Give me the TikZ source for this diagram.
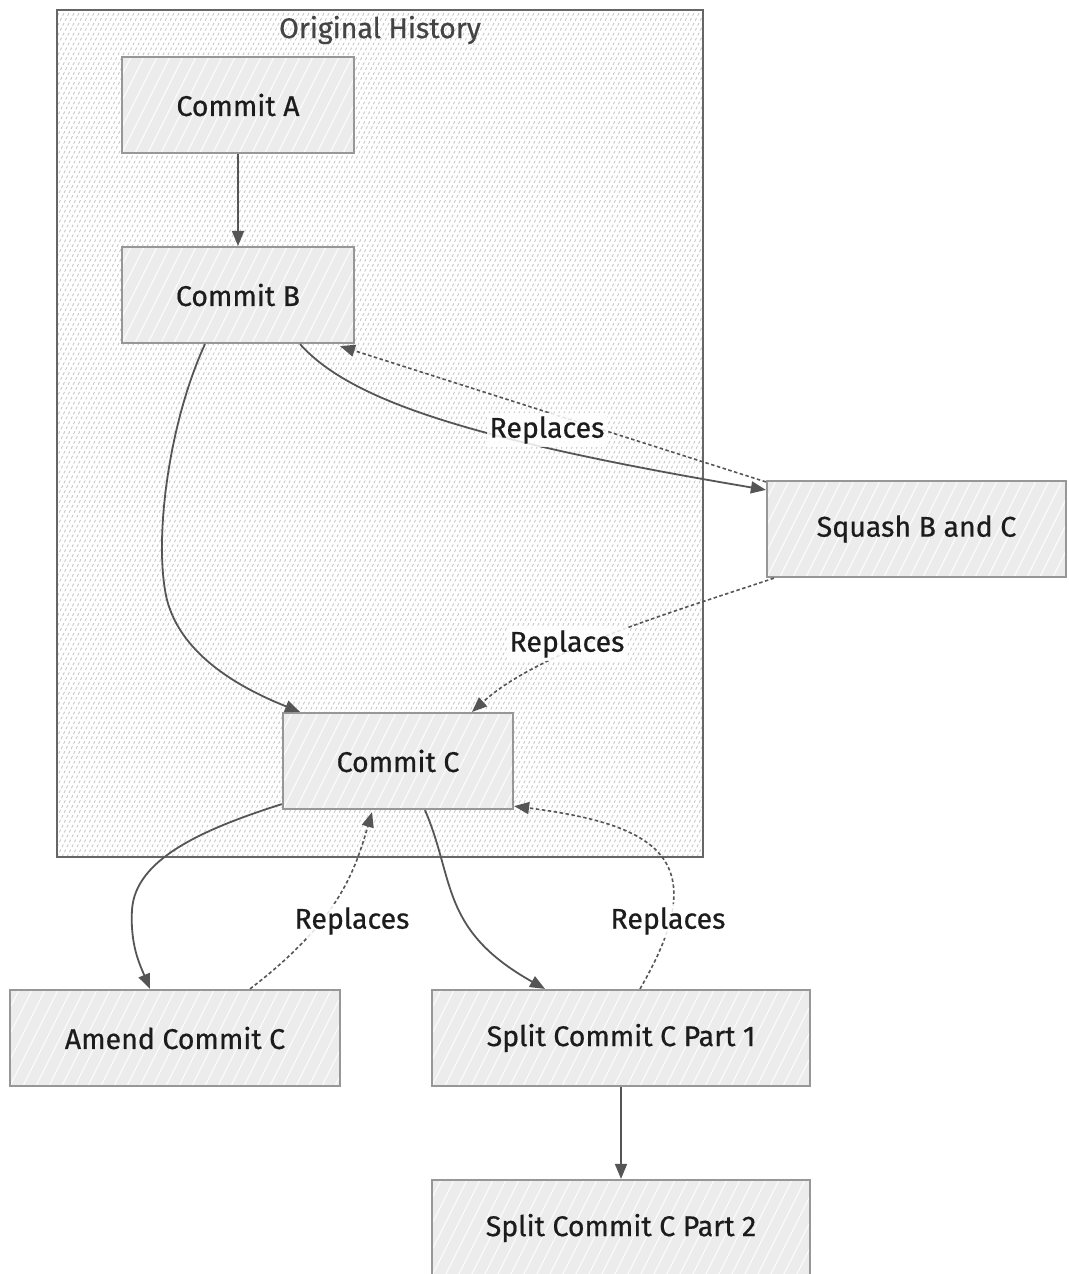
\documentclass[tikz,border=0pt]{standalone}
\usepackage{fontspec}
\setmainfont[FakeBold=0.6]{Fira Sans}
\usetikzlibrary{arrows.meta}
\definecolor{boxfill}{HTML}{ECECEC}
\definecolor{boxline}{HTML}{979797}
\definecolor{clusterline}{HTML}{666666}
\definecolor{clusterhatch}{HTML}{C4C4C4}
\definecolor{edgecol}{HTML}{555555}
\definecolor{textcol}{HTML}{1C1C1C}
\definecolor{titlecol}{HTML}{444444}
\begin{document}
\begin{tikzpicture}[x=1pt, y=-1pt,
  every node/.style={font=\fontsize{28.5}{33}\selectfont, text=textcol},
  boxhatch/.style={path picture={
    \foreach \k in {-8,...,32}{
      \draw[white, line width=1.2pt, opacity=0.75]
        ([xshift=\k*13pt]path picture bounding box.south west) -- ++(70,-140);
    }}},
  commitbox/.style={draw=boxline, line width=2.2pt, fill=boxfill, boxhatch,
    minimum height=96, inner sep=0pt},
  clusterhatchstyle/.style={path picture={
    \foreach \k in {-92,...,132}{
      \draw[clusterhatch, line width=0.7pt, dash pattern=on 3pt off 2.5pt]
        ([xshift=\k*5pt]path picture bounding box.south west) -- ++(440,-880);
    }}},
  clusterbox/.style={draw=clusterline, line width=2pt, fill=white,
    clusterhatchstyle, inner sep=0pt},
  flow/.style={draw=edgecol, line width=1.8pt,
    -{Triangle[length=15pt, width=12pt]}},
  replaces/.style={draw=edgecol, line width=1.6pt, dash pattern=on 3.5pt off 2.5pt,
    -{Triangle[length=15pt, width=12pt]}},
  edgelabel/.style={fill=white, fill opacity=0.85, text opacity=1,
    inner sep=3pt}
]
\useasboundingbox (0,0) rectangle (1068,1274);

% subgraph frame
\node[clusterbox, minimum width=646, minimum height=847] (hist) at (380,433.5) {};
\node[text=titlecol] (histtitle) at (380,30) {Original History};

% commits
\node[commitbox, minimum width=232] (A) at (238,105) {Commit A};
\node[commitbox, minimum width=232] (B) at (238,295) {Commit B};
\node[commitbox, minimum width=230] (C) at (398,761) {Commit C};
\node[commitbox, minimum width=299] (SQ) at (916.5,529) {Squash B and C};
\node[commitbox, minimum width=330] (AM) at (175,1038) {Amend Commit C};
\node[commitbox, minimum width=378] (S1) at (621,1038) {Split Commit C Part 1};
\node[commitbox, minimum width=378] (S2) at (621,1228) {Split Commit C Part 2};

% anchor points on the box borders
\coordinate (Bsw) at ([xshift=-33pt]B.south);
\coordinate (Bse) at ([xshift=62pt]B.south);
\coordinate (Bse2) at ([xshift=102pt,yshift=-2pt]B.south);
\coordinate (Cnw) at ([xshift=-98pt]C.north);
\coordinate (Cne) at ([xshift=74pt]C.north);
\coordinate (Csw) at ([yshift=6pt]C.south west);
\coordinate (Cs1) at ([xshift=27pt]C.south);
\coordinate (Cs2) at ([xshift=-26pt,yshift=-2pt]C.south);
\coordinate (Cse) at ([yshift=4pt]C.south east);
\coordinate (SQnw) at ([yshift=-2pt]SQ.north west);
\coordinate (SQw) at ([yshift=-10pt]SQ.north west);
\coordinate (SQsw) at ([xshift=8pt]SQ.south west);
\coordinate (AMn1) at ([xshift=-25pt]AM.north);
\coordinate (AMn2) at ([xshift=75pt]AM.north);
\coordinate (S1n1) at ([xshift=-76pt]S1.north);
\coordinate (S1n2) at ([xshift=19pt]S1.north);

% solid edges
\draw[flow] (A) -- (B);
\draw[flow] (Bsw) .. controls (170,420) and (155,530) .. (165,590)
  .. controls (175,655) and (245,690) .. (Cnw);
\draw[flow] (Bse) .. controls (350,400) and (470,440) .. (SQw);
\draw[flow] (Csw) .. controls (200,830) and (135,860) .. (132,910)
  .. controls (130,945) and (140,965) .. (AMn1);
\draw[flow] (Cs1) .. controls (455,880) and (440,930) .. (S1n1);
\draw[flow] (S1) -- (S2);

% dashed "Replaces" edges
\draw[replaces] (SQnw) -- (Bse2);
\draw[replaces] (SQsw) .. controls (680,610) and (540,650) .. (Cne);
\draw[replaces] (AMn2) .. controls (340,920) and (355,870) .. (Cs2);
\draw[replaces] (S1n2) .. controls (715,860) and (660,825) .. (Cse);

% edge labels
\node[edgelabel] (L1) at (547,430) {Replaces};
\node[edgelabel] (L2) at (567,644) {Replaces};
\node[edgelabel] (L3) at (352,921) {Replaces};
\node[edgelabel] (L4) at (668,921) {Replaces};
\end{tikzpicture}
\end{document}
